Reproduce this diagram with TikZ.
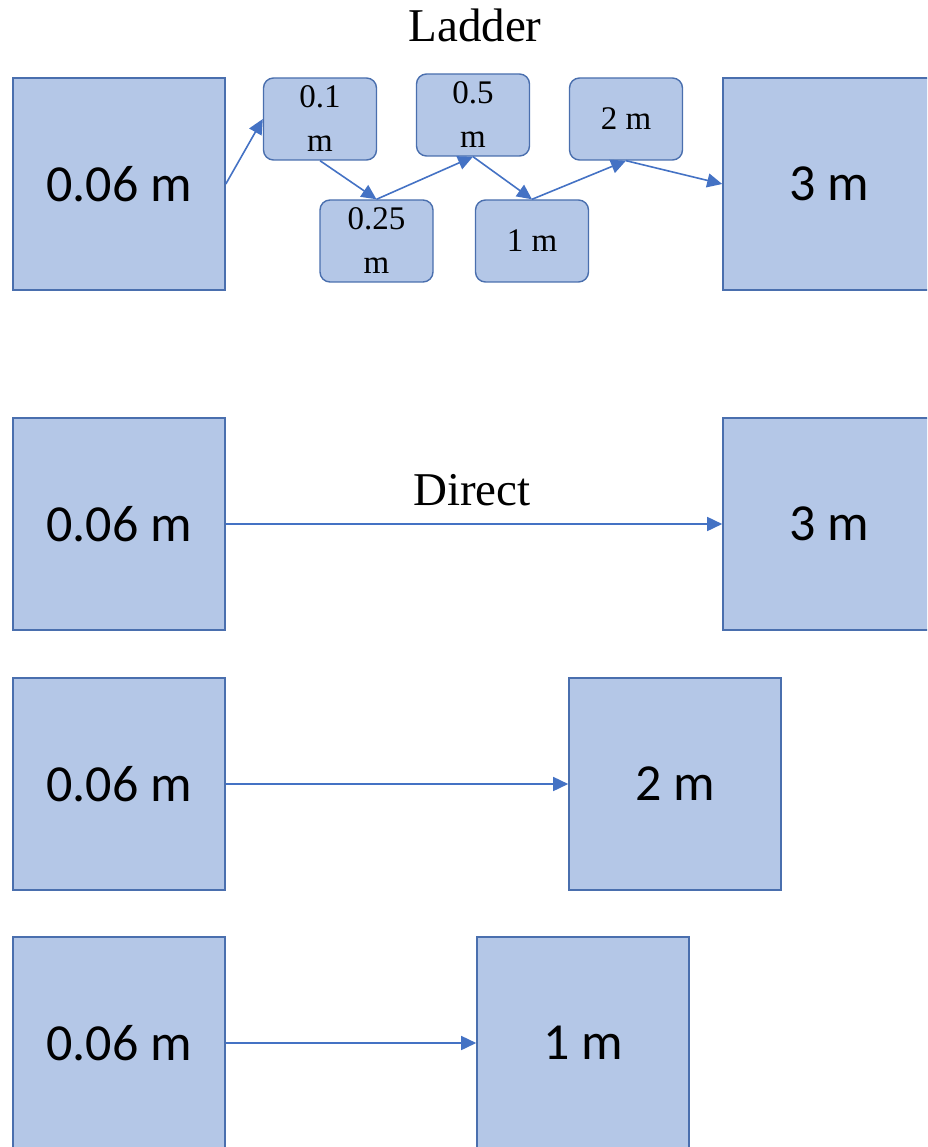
\documentclass[tikz,border=0pt]{standalone}
\usepackage{fontspec}
\setmainfont{Liberation Serif}
\newfontfamily\calib{Carlito}
\usetikzlibrary{arrows.meta}
\definecolor{boxfill}{HTML}{B4C7E7}
\definecolor{boxline}{HTML}{4A6FAE}
\definecolor{arrowblue}{HTML}{4472C4}
\tikzset{
  bigbox/.style={draw=boxline, line width=1.6pt, fill=boxfill, minimum width=212pt,
    minimum height=212pt, inner sep=0pt, font=\calib\fontsize{52}{58}\selectfont},
  smallbox/.style={draw=boxline, line width=1.4pt, fill=boxfill, rounded corners=10pt,
    minimum width=113pt, minimum height=82pt, inner sep=0pt, align=center,
    font=\fontsize{33}{44}\selectfont},
  conn/.style={draw=arrowblue, line width=1.6pt,
    -{Triangle[length=15pt,width=14pt]}},
  title/.style={font=\fontsize{47}{52}\selectfont, inner sep=0pt}
}
\begin{document}
\begin{tikzpicture}[x=1pt,y=-1pt]
  \useasboundingbox (0,0) rectangle (927,1147);
  \clip (0,0) rectangle (927,1147);

  % ladder row
  \node[title] (tl) at (475,25) {Ladder};
  \node[bigbox] (a1) at (119,184) {0.06 m};
  \node[bigbox] (b1) at (829,184) {3 m};
  \node[smallbox] (s1) at (320,119) {0.1\\m};
  \node[smallbox] (s2) at (376.5,241) {0.25\\m};
  \node[smallbox] (s3) at (473,115) {0.5\\m};
  \node[smallbox] (s4) at (532,241) {1 m};
  \node[smallbox] (s5) at (626,119) {2 m};
  \draw[conn] (a1.east) -- (s1.west);
  \draw[conn] (s1.south) -- (s2.north);
  \draw[conn] (s2.north) -- (s3.south);
  \draw[conn] (s3.south) -- (s4.north);
  \draw[conn] (s4.north) -- (s5.south);
  \draw[conn] (s5.south) -- (b1.west);

  % direct rows
  \node[bigbox] (a2) at (119,524) {0.06 m};
  \node[bigbox] (b2) at (829,524) {3 m};
  \node[title] (td) at (472,490) {Direct};
  \draw[conn] (a2.east) -- (b2.west);

  \node[bigbox] (a3) at (119,784) {0.06 m};
  \node[bigbox] (b3) at (675,784) {2 m};
  \draw[conn] (a3.east) -- (b3.west);

  \node[bigbox] (a4) at (119,1043) {0.06 m};
  \node[bigbox] (b4) at (583,1043) {1 m};
  \draw[conn] (a4.east) -- (b4.west);
\end{tikzpicture}
\end{document}
